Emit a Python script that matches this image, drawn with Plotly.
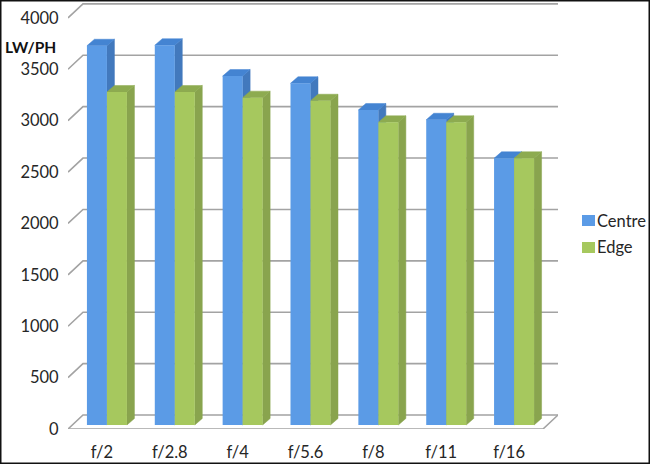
import plotly.graph_objects as go

categories = ["f/2", "f/2.8", "f/4", "f/5.6", "f/8", "f/11", "f/16"]
centre = [3690, 3695, 3395, 3325, 3065, 2970, 2595]
edge = [3240, 3240, 3185, 3155, 2945, 2945, 2595]
y_ticks = [0, 500, 1000, 1500, 2000, 2500, 3000, 3500, 4000]

PX_X = 67.86          # pixels per category
PX_Y = 0.10278        # pixels per value unit
def ux(px): return px / PX_X
def uy(px): return px / PX_Y

# plot area in page pixels
L, R, T, B = 68, 558, 3, 429
def pa_x(px): return (px - L) / (R - L)
def pa_y(py): return (B - py) / (B - T)

FONT = "Lato"
GRID = "#a3a3a3"
xs = list(range(len(categories)))
x_lo, x_hi = -0.5, 6.5
wall_dx, wall_dy = ux(15), uy(14)
bar_dx, bar_dy = ux(5), uy(4)      # bars stand a little behind the front edge
bar_w = ux(20)
depth_x, depth_y = ux(7.5), uy(6.5)

fig = go.Figure()

# walls and floor
gx, gy = [], []
for v in y_ticks:
    gx += [x_lo, x_lo + wall_dx, x_hi + wall_dx, None]
    gy += [v, v + wall_dy, v + wall_dy, None]
gx += [x_lo, x_hi, x_hi + wall_dx, None]
gy += [0, 0, wall_dy, None]
fig.add_trace(go.Scatter(x=gx, y=gy, mode="lines", line=dict(color=GRID, width=1.6),
                         hoverinfo="skip", showlegend=False, cliponaxis=False))

def faces(values, side_offset):
    sx, sy, tx, ty = [], [], [], []
    for i, v in enumerate(values):
        left = i + bar_dx + side_offset
        right = left + bar_w
        top = v + bar_dy
        sx += [right, right + depth_x, right + depth_x, right, right, None]
        sy += [bar_dy, bar_dy + depth_y, top + depth_y, top, bar_dy, None]
        tx += [left, left + depth_x, right + depth_x, right, left, None]
        ty += [top, top + depth_y, top + depth_y, top, top, None]
    return sx, sy, tx, ty

series = [
    ("Centre", centre, -bar_w, "#5b9be6", "#4279bd", "#4484d2"),
    ("Edge", edge, 0, "#a6c85e", "#89a44e", "#8dab50"),
]
for name, vals, off, front, side, top in series:
    sx, sy, tx, ty = faces(vals, off)
    for fx, fy, col in ((sx, sy, side), (tx, ty, top)):
        fig.add_trace(go.Scatter(x=fx, y=fy, mode="lines", fill="toself", fillcolor=col,
                                 line=dict(width=0.5, color=col), hoverinfo="skip",
                                 showlegend=False))
for name, vals, off, front, side, top in series:
    fig.add_trace(go.Bar(x=[i + bar_dx + off + bar_w / 2 for i in xs], y=vals,
                         base=bar_dy, width=bar_w, name=name, marker=dict(color=front, line=dict(width=0)),
                         xaxis="x2", yaxis="y2", showlegend=False))

x_range = [x_lo, x_hi + wall_dx]
y_range = [0, uy(B - T)]
tick_font = dict(family=FONT, size=16.5, color="#262626")
fig.update_layout(
    width=650, height=464, barmode="overlay",
    margin=dict(l=L, r=650 - R, t=T, b=464 - B),
    paper_bgcolor="white", plot_bgcolor="white",
    xaxis=dict(range=x_range, tickmode="array", tickvals=xs, ticktext=categories,
               showgrid=False, zeroline=False, showline=False, ticks="outside", ticklen=8,
               tickcolor="rgba(0,0,0,0)", tickfont=tick_font),
    yaxis=dict(range=y_range, tickmode="array", tickvals=y_ticks, ticktext=[str(t) for t in y_ticks],
               showgrid=False, zeroline=False, showline=False, ticks="outside", ticklen=5,
               tickcolor="rgba(0,0,0,0)", tickfont=tick_font),
    xaxis2=dict(range=x_range, overlaying="x", visible=False),
    yaxis2=dict(range=y_range, overlaying="y", visible=False),
    annotations=[
        dict(text="<b>LW/PH</b>", xref="paper", yref="paper", x=pa_x(3), y=pa_y(47),
             xanchor="left", yanchor="middle", showarrow=False,
             font=dict(family=FONT, size=15.5, color="#111111")),
        dict(text="Centre", xref="paper", yref="paper", x=pa_x(597), y=pa_y(220.5),
             xanchor="left", yanchor="middle", showarrow=False, xshift=-2, font=tick_font),
        dict(text="Edge", xref="paper", yref="paper", x=pa_x(597), y=pa_y(247),
             xanchor="left", yanchor="middle", showarrow=False, xshift=-2, font=tick_font),
    ],
    shapes=[
        dict(type="rect", xref="paper", yref="paper", x0=pa_x(582), x1=pa_x(595),
             y0=pa_y(226), y1=pa_y(215), fillcolor="#5b9be6", line=dict(width=0)),
        dict(type="rect", xref="paper", yref="paper", x0=pa_x(582), x1=pa_x(595),
             y0=pa_y(253), y1=pa_y(242), fillcolor="#a6c85e", line=dict(width=0)),
        dict(type="rect", xref="paper", yref="paper", x0=pa_x(0), x1=pa_x(650),
             y0=pa_y(464), y1=pa_y(0), line=dict(color="#111111", width=3),
             fillcolor="rgba(0,0,0,0)"),
    ],
)
fig.write_html("out.html", config=dict(displayModeBar=False),
               post_script="document.body.style.margin='0';")
